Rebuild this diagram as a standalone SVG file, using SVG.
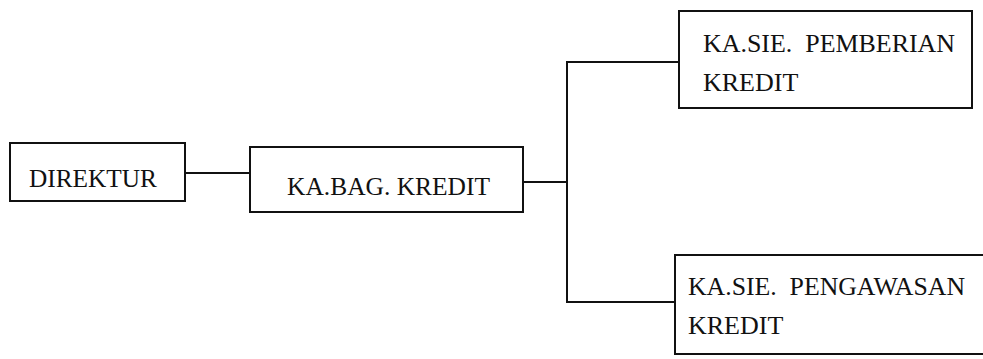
<svg xmlns="http://www.w3.org/2000/svg" width="983" height="359" viewBox="0 0 983 359">
  <style>
    .box { fill: #ffffff; stroke: #111111; stroke-width: 2; }
    .conn { fill: none; stroke: #111111; stroke-width: 2; }
    .lbl { font-family: 'Liberation Serif', 'DejaVu Serif', 'Noto Serif', serif; font-size: 26px; fill: #111111; }
  </style>
  <rect x="0" y="0" width="983" height="359" fill="#ffffff"/>
  <g id="connectors">
    <line class="conn" x1="185" y1="173" x2="250" y2="173"/>
    <line class="conn" x1="523" y1="182" x2="567" y2="182"/>
    <line class="conn" x1="567" y1="61" x2="567" y2="303"/>
    <line class="conn" x1="566" y1="62" x2="679" y2="62"/>
    <line class="conn" x1="566" y1="302" x2="675" y2="302"/>
  </g>
  <g id="direktur">
    <rect class="box" x="10" y="143" width="175" height="58"/>
    <text class="lbl" font-family="Liberation Serif, DejaVu Serif, serif" x="29" y="187" textLength="128" lengthAdjust="spacingAndGlyphs">DIREKTUR</text>
  </g>
  <g id="kabag-kredit">
    <rect class="box" x="250" y="147" width="273" height="65"/>
    <text class="lbl" font-family="Liberation Serif, DejaVu Serif, serif" x="287" y="195" textLength="203" lengthAdjust="spacingAndGlyphs">KA.BAG. KREDIT</text>
  </g>
  <g id="kasie-pemberian">
    <rect class="box" x="679" y="11" width="293" height="97"/>
    <text class="lbl" font-family="Liberation Serif, DejaVu Serif, serif" x="703" y="52" textLength="252" lengthAdjust="spacingAndGlyphs" xml:space="preserve">KA.SIE.  PEMBERIAN</text>
    <text class="lbl" font-family="Liberation Serif, DejaVu Serif, serif" x="703" y="91">KREDIT</text>
  </g>
  <g id="kasie-pengawasan">
    <rect class="box" x="675" y="255" width="330" height="99"/>
    <text class="lbl" font-family="Liberation Serif, DejaVu Serif, serif" x="688" y="295" textLength="277" lengthAdjust="spacingAndGlyphs" xml:space="preserve">KA.SIE.  PENGAWASAN</text>
    <text class="lbl" font-family="Liberation Serif, DejaVu Serif, serif" x="688" y="334">KREDIT</text>
  </g>
</svg>
